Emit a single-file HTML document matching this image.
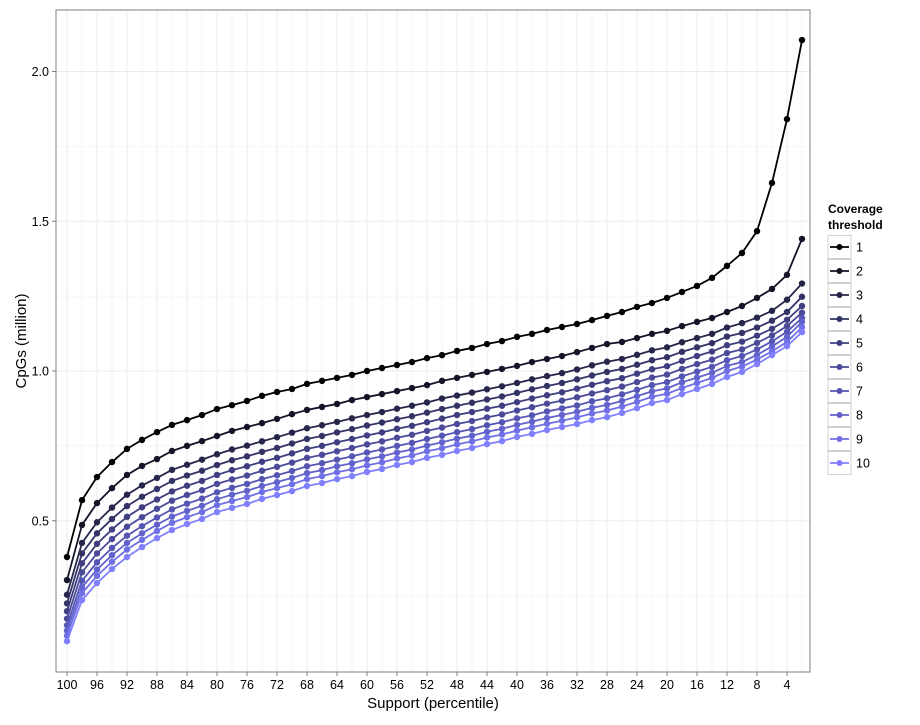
<!DOCTYPE html>
<html><head><meta charset="utf-8"><style>
body{margin:0;background:#fff;font-family:"Liberation Sans",sans-serif}
svg text{font-family:"Liberation Sans",sans-serif}
</style></head><body>
<svg id="chart" width="920" height="720">
<rect width="920" height="720" fill="#fff"/>
<g id="grid"></g>
<g id="series"></g>
<rect x="56" y="10" width="754" height="662" fill="none" stroke="#7f7f7f" stroke-width="1"/>
<g id="axes"></g>
<text x="433" y="708" font-size="15" text-anchor="middle">Support (percentile)</text>
<text transform="translate(26,341) rotate(-90)" font-size="15" text-anchor="middle">CpGs (million)</text>
<g id="legend">
<text x="828" y="213" font-size="12" font-weight="bold">Coverage</text>
<text x="828" y="229" font-size="12" font-weight="bold">threshold</text>
</g>
</svg>
<script>
const categories = [100,98,96,94,92,90,88,86,84,82,80,78,76,74,72,70,68,66,64,62,60,58,56,54,52,50,48,46,44,42,40,38,36,34,32,30,28,26,24,22,20,18,16,14,12,10,8,6,4,2];
const xTickLabels = [100,96,92,88,84,80,76,72,68,64,60,56,52,48,44,40,36,32,28,24,20,16,12,8,4];
const yTickLabels = [0.5,1.0,1.5,2.0];
const seriesNames = ["1","2","3","4","5","6","7","8","9","10"];
const s1 = [0.379,0.569,0.646,0.696,0.740,0.770,0.796,0.820,0.836,0.853,0.873,0.886,0.900,0.917,0.930,0.940,0.957,0.967,0.977,0.987,1.000,1.010,1.020,1.030,1.043,1.053,1.067,1.077,1.090,1.100,1.114,1.124,1.137,1.147,1.157,1.170,1.184,1.197,1.214,1.227,1.244,1.264,1.284,1.311,1.351,1.394,1.467,1.628,1.841,2.105];
const s2 = [0.302,0.486,0.559,0.609,0.653,0.683,0.706,0.733,0.750,0.766,0.783,0.800,0.813,0.826,0.840,0.856,0.870,0.880,0.890,0.903,0.913,0.923,0.933,0.943,0.953,0.967,0.977,0.987,0.997,1.007,1.017,1.030,1.040,1.050,1.063,1.077,1.090,1.097,1.110,1.124,1.134,1.150,1.164,1.177,1.197,1.217,1.244,1.274,1.321,1.441];
const s3 = [0.253,0.426,0.495,0.544,0.587,0.618,0.643,0.670,0.687,0.704,0.722,0.738,0.751,0.765,0.779,0.794,0.809,0.819,0.830,0.842,0.853,0.863,0.874,0.884,0.895,0.908,0.918,0.928,0.939,0.949,0.960,0.972,0.983,0.993,1.005,1.019,1.031,1.040,1.054,1.069,1.079,1.096,1.110,1.124,1.145,1.160,1.178,1.201,1.238,1.292];
const s4 = [0.224,0.391,0.458,0.506,0.549,0.580,0.606,0.633,0.651,0.667,0.686,0.702,0.715,0.730,0.743,0.758,0.773,0.783,0.795,0.806,0.818,0.828,0.839,0.849,0.861,0.873,0.884,0.894,0.905,0.915,0.927,0.939,0.950,0.960,0.972,0.985,0.997,1.007,1.021,1.036,1.046,1.064,1.079,1.093,1.115,1.127,1.145,1.168,1.197,1.248];
const s5 = [0.198,0.358,0.423,0.471,0.513,0.545,0.571,0.598,0.617,0.633,0.653,0.669,0.682,0.697,0.710,0.725,0.740,0.750,0.762,0.773,0.785,0.795,0.807,0.817,0.829,0.841,0.853,0.863,0.874,0.884,0.896,0.908,0.919,0.929,0.941,0.954,0.966,0.976,0.991,1.006,1.016,1.034,1.050,1.065,1.086,1.098,1.118,1.141,1.171,1.217];
const s6 = [0.173,0.328,0.391,0.439,0.480,0.512,0.540,0.567,0.586,0.602,0.623,0.638,0.651,0.667,0.680,0.694,0.710,0.720,0.732,0.743,0.755,0.765,0.777,0.787,0.800,0.811,0.823,0.833,0.845,0.855,0.868,0.879,0.891,0.901,0.912,0.925,0.936,0.948,0.963,0.978,0.988,1.007,1.023,1.038,1.060,1.072,1.094,1.119,1.150,1.195];
const s7 = [0.151,0.300,0.361,0.409,0.450,0.482,0.511,0.538,0.557,0.574,0.595,0.610,0.623,0.639,0.652,0.666,0.682,0.692,0.704,0.715,0.728,0.738,0.750,0.760,0.773,0.784,0.796,0.806,0.819,0.829,0.842,0.852,0.865,0.875,0.885,0.899,0.909,0.922,0.937,0.953,0.963,0.982,0.998,1.014,1.036,1.050,1.072,1.099,1.131,1.177];
const s8 = [0.133,0.278,0.337,0.385,0.426,0.458,0.487,0.514,0.533,0.550,0.572,0.587,0.600,0.616,0.629,0.643,0.659,0.669,0.682,0.692,0.705,0.715,0.728,0.738,0.751,0.762,0.774,0.784,0.797,0.807,0.820,0.831,0.843,0.853,0.864,0.877,0.887,0.900,0.916,0.932,0.942,0.962,0.978,0.994,1.017,1.030,1.054,1.082,1.114,1.164];
const s9 = [0.116,0.258,0.316,0.363,0.404,0.436,0.466,0.493,0.512,0.529,0.552,0.566,0.579,0.596,0.609,0.622,0.639,0.649,0.662,0.672,0.685,0.695,0.708,0.718,0.732,0.742,0.755,0.765,0.778,0.788,0.801,0.812,0.824,0.834,0.845,0.858,0.868,0.881,0.897,0.914,0.924,0.943,0.960,0.977,1.000,1.015,1.038,1.066,1.097,1.146];
const s10 = [0.098,0.235,0.292,0.339,0.379,0.412,0.442,0.469,0.489,0.506,0.529,0.543,0.556,0.573,0.586,0.599,0.616,0.626,0.639,0.649,0.663,0.673,0.686,0.696,0.710,0.720,0.733,0.743,0.756,0.766,0.780,0.790,0.803,0.813,0.823,0.836,0.846,0.860,0.876,0.893,0.903,0.923,0.940,0.957,0.980,0.997,1.023,1.053,1.083,1.130];
const allSeries = [s1,s2,s3,s4,s5,s6,s7,s8,s9,s10];
const colors = ["#000000","#141428","#26264a","#333366","#3e3e80","#4a4a99","#5555b3","#6262cc","#7070e6","#8080ff"];

const NS = "http://www.w3.org/2000/svg";
const PL = 56, PR = 810, PT = 10, PB = 672;
// x: category 100 at 67, 2 at 802
function xScale(c){ return 67 + (100 - c) / 2 * 15; }
function yScale(v){ return 371 - (v - 1) * 299.5; }
function mk(tag, attrs, parent){ const e = document.createElementNS(NS, tag); for (const k in attrs) e.setAttribute(k, attrs[k]); parent.appendChild(e); return e; }

const grid = document.getElementById('grid');
// minor vertical grid (each category between major ticks)
categories.forEach(c => {
  const l = mk('line', {x1: xScale(c), x2: xScale(c), y1: PT, y2: PB, stroke: '#f3f3f3', 'stroke-width': 0.8}, grid);
  
  
});
// minor horizontal
[0.25,0.75,1.25,1.75].forEach(v => {
  const l = mk('line', {x1: PL, x2: PR, y1: yScale(v), y2: yScale(v), stroke: '#f3f3f3', 'stroke-width': 0.8}, grid);
  
  
});
xTickLabels.forEach(c => {
  const l = mk('line', {x1: xScale(c), x2: xScale(c), y1: PT, y2: PB, stroke: '#ebebeb', 'stroke-width': 1}, grid);
  
  
});
yTickLabels.forEach(v => {
  const l = mk('line', {x1: PL, x2: PR, y1: yScale(v), y2: yScale(v), stroke: '#ebebeb', 'stroke-width': 1}, grid);
  
  
});

const axes = document.getElementById('axes');
xTickLabels.forEach(c => {
  const x = xScale(c);
  const t = mk('line', {x1: x, x2: x, y1: PB, y2: PB + 4, stroke: '#7f7f7f'}, axes);
  
  
  const tx = mk('text', {x: x, y: PB + 17, 'font-size': 12.5, 'text-anchor': 'middle', fill: '#000'}, axes);
  tx.textContent = c;
  
  
});
yTickLabels.forEach(v => {
  const y = yScale(v);
  const t = mk('line', {x1: PL - 4, x2: PL, y1: y, y2: y, stroke: '#7f7f7f'}, axes);
  
  
  const tx = mk('text', {x: PL - 7, y: y + 4.5, 'font-size': 12.5, 'text-anchor': 'end', fill: '#000'}, axes);
  tx.textContent = v.toFixed(1);
  
  
});

const sg = document.getElementById('series');
allSeries.forEach((vals, i) => {
  const g = mk('g', {}, sg);
  
  
  const pts = vals.map((v, j) => xScale(categories[j]) + ',' + yScale(v)).join(' ');
  const pl = mk('polyline', {points: pts, fill: 'none', stroke: colors[i], 'stroke-width': 1.8, 'stroke-linejoin': 'round'}, g);
  
  
  vals.forEach((v, j) => {
    const c = mk('circle', {cx: xScale(categories[j]), cy: yScale(v), r: 3.2, fill: colors[i]}, g);
    
    
  });
});

const lg = document.getElementById('legend');
seriesNames.forEach((n, i) => {
  const yc = 247 + i * 24;
  const b = mk('rect', {x: 828, y: yc - 11.5, width: 23, height: 23, fill: '#fff', stroke: '#d0d0d0', 'stroke-width': 1}, lg);
  
  
  const l = mk('line', {x1: 830, x2: 849, y1: yc, y2: yc, stroke: colors[i], 'stroke-width': 1.8}, lg);
  
  
  const c = mk('circle', {cx: 839.5, cy: yc, r: 3, fill: colors[i]}, lg);
  
  
  const t = mk('text', {x: 856, y: yc + 4.5, 'font-size': 12.5, fill: '#000'}, lg);
  t.textContent = n;
  
  
});
</script>
</body></html>
